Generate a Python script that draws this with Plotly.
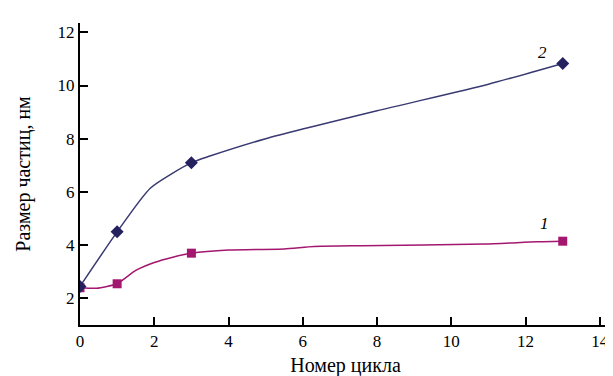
import plotly.graph_objects as go

# Measured points (markers)
cycles = [0, 1, 3, 13]
size_1 = [2.4, 2.55, 3.7, 4.15]
size_2 = [2.45, 4.5, 7.1, 10.83]

# Smoothed curve as drawn in the picture
curve1_x = [0, 0.45, 1, 1.5, 2.0, 2.5, 3, 4.0, 5.5, 6.3, 7.6, 10.9, 12.3, 13]
curve1_y = [2.4, 2.38, 2.55, 3.05, 3.35, 3.55, 3.7, 3.82, 3.86, 3.95, 3.98, 4.04, 4.13, 4.15]
curve2_x = [0, 1, 1.9, 3, 3.5, 5, 8, 11, 13]
curve2_y = [2.45, 4.5, 6.15, 7.1, 7.35, 8.0, 9.05, 10.05, 10.83]

x_ticks = [0, 2, 4, 6, 8, 10, 12, 14]
y_ticks = [2, 4, 6, 8, 10, 12]

c1 = "#a3176f"
c2 = "#24215e"
font = "Times New Roman, Liberation Serif, serif"

fig = go.Figure()
fig.add_trace(go.Scatter(x=curve1_x, y=curve1_y, mode="lines",
                         line=dict(color=c1, width=1.5, shape="spline", smoothing=0.5),
                         showlegend=False))
fig.add_trace(go.Scatter(x=curve2_x, y=curve2_y, mode="lines",
                         line=dict(color="#3a3a72", width=1.5, shape="spline", smoothing=0.6),
                         showlegend=False))
fig.add_trace(go.Scatter(x=cycles, y=size_1, mode="markers",
                         marker=dict(symbol="square", size=9, color=c1),
                         showlegend=False))
fig.add_trace(go.Scatter(x=cycles, y=size_2, mode="markers",
                         marker=dict(symbol="diamond", size=10, color=c2),
                         showlegend=False))

fig.add_annotation(x=12.45, y=11.25, text="<i>2</i>", showarrow=False,
                   font=dict(family=font, size=17, color="black"))
fig.add_annotation(x=12.5, y=4.81, text="<i>1</i>", showarrow=False,
                   font=dict(family=font, size=17, color="black"))

fig.update_layout(
    width=613, height=376,
    margin=dict(l=72, r=10, t=15, b=59),
    paper_bgcolor="white", plot_bgcolor="white",
    font=dict(family=font, size=17, color="black"),
)
fig.update_xaxes(range=[0, 14.3], tickvals=x_ticks, ticks="inside", ticklen=8,
                 tickwidth=1.5, tickcolor="black", showline=True, linecolor="black",
                 linewidth=2, showgrid=False, zeroline=False,
                 title=dict(text="Номер цикла", standoff=8))
fig.update_yaxes(range=[1, 12.35], tickvals=y_ticks, ticks="inside", ticklen=8,
                 tickwidth=1.5, tickcolor="black", showline=True, linecolor="black",
                 linewidth=2, showgrid=False, zeroline=False,
                 title=dict(text="Размер частиц, нм", standoff=22))

fig.write_html("out.html")
